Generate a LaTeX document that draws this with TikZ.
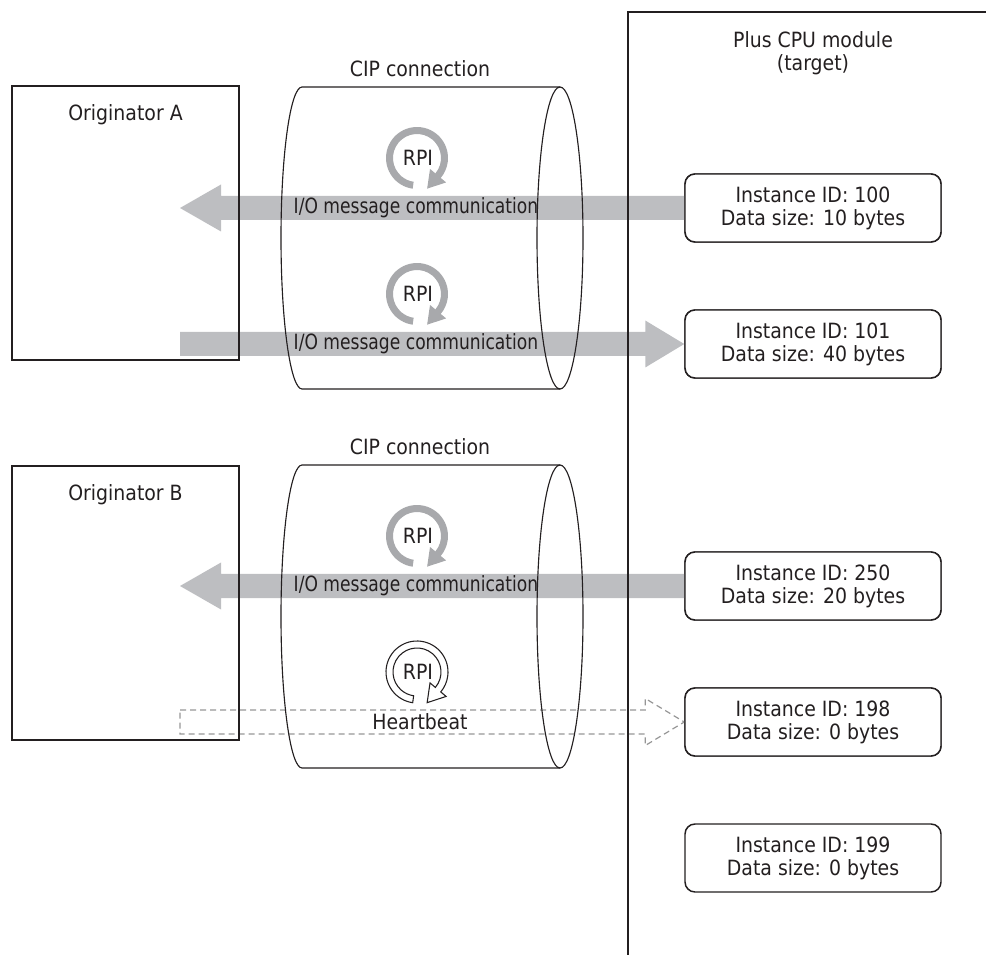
\documentclass[tikz,border=0pt]{standalone}
\usepackage{fontspec}
\usepackage{graphicx}
\setmainfont{DejaVu Sans}[FakeStretch=0.9]
\usetikzlibrary{calc}
\definecolor{band}{RGB}{189,190,193}
\definecolor{ringg}{RGB}{168,169,172}
\definecolor{dashg}{RGB}{150,150,150}
\definecolor{ink}{RGB}{35,31,32}
\newcommand\rpiring[2]{%
  \begin{scope}[shift={#1}, yscale=-1]
    \path[#2] (262:31) arc[start angle=262, end angle=-40, radius=31]
      -- (-40:38) -- (-71.7:32.3) -- (-40:17) -- (-40:24)
      arc[start angle=-40, end angle=262, radius=24] -- cycle;
  \end{scope}}
\newcommand\leftband[3]{% #1 = from node, #2 = tip coordinate, #3 = style
  \path[#3] ($(#1.west)+(0,-12)$) -- ($(#2)+(41,-12)$) -- ($(#2)+(41,-23.5)$) -- (#2)
    -- ($(#2)+(41,23.5)$) -- ($(#2)+(41,12)$) -- ($(#1.west)+(0,12)$) -- cycle;}
\newcommand\rightband[3]{% #1 = tail coordinate, #2 = to node, #3 = style
  \path[#3] ($(#1)+(0,-12)$) -- ($(#2.west)+(-39,-12)$) -- ($(#2.west)+(-39,-23.5)$) -- (#2.west)
    -- ($(#2.west)+(-39,23.5)$) -- ($(#2.west)+(-39,12)$) -- ($(#1)+(0,12)$) -- cycle;}
\newcommand\iomsg{\scalebox{0.906}[1]{I/O message communication}}
\begin{document}
\begin{tikzpicture}[x=0.75pt,y=-0.75pt,
  txt/.style={font=\fontsize{15.75pt}{17.25pt}\selectfont, text=ink, inner sep=0pt, align=center},
  inst/.style={txt, draw=ink, line width=1.1pt, rounded corners=7.5pt, fill=white,
    minimum width=192pt, minimum height=51pt},
  origbox/.style={draw=ink, line width=1.5pt, minimum width=170.25pt, minimum height=205.5pt, inner sep=0pt},
  cylline/.style={draw=ink, line width=0.85pt},
  ringfill/.style={fill=ringg},
  ringhb/.style={fill=white, draw=ink, line width=0.8pt},
  bandfill/.style={fill=band},
  banddash/.style={draw=dashg, line width=0.9pt, dash pattern=on 4.5pt off 3pt},
]
\useasboundingbox (0,0) rectangle (986,955);

% instance boxes (placed first so arrows can reference them)
\path (813,208) node[inst] (i100) {\phantom{I}};
\path (813,344) node[inst] (i101) {\phantom{I}};
\path (813,586) node[inst] (i250) {\phantom{I}};
\path (813,722) node[inst] (i198) {\phantom{I}};

% arrow end coordinates
\coordinate (la1) at (180,208);
\coordinate (ra2) at (180,344);
\coordinate (la3) at (180,586);
\coordinate (hb)  at (180,722);

% bands
\leftband{i100}{la1}{bandfill}
\rightband{ra2}{i101}{bandfill}
\leftband{i250}{la3}{bandfill}
\rightband{hb}{i198}{banddash}

% cylinders
\draw[cylline] (560,87) -- (302,87) arc[start angle=270, end angle=90, x radius=21, y radius=151] -- (560,389);
\draw[cylline] (560,238) ellipse[x radius=23, y radius=151];
\draw[cylline] (560,465) -- (302,465) arc[start angle=270, end angle=90, x radius=21, y radius=151.5] -- (560,768);
\draw[cylline] (560,616.5) ellipse[x radius=23, y radius=151.5];

% originators
\node[origbox] (oa) at (125.5,223) {};
\node[origbox] (ob) at (125.5,603) {};
\node[txt] (oal) at (125.5,115) {Originator A};
\node[txt] (obl) at (125.5,495) {Originator B};

% target
\draw[draw=ink, line width=1.7pt] (986,12) -- (628,12) -- (628,955);
\node[txt] (tgt) at (813,53.5) {Plus CPU module\\(target)};

% instance boxes with text
\node[inst] (j100) at (813,208) {Instance ID: 100\\Data size: 10 bytes};
\node[inst] (j101) at (813,344) {Instance ID: 101\\Data size: 40 bytes};
\node[inst] (j250) at (813,586) {Instance ID: 250\\Data size: 20 bytes};
\node[inst] (j198) at (813,722) {Instance ID: 198\\Data size: 0 bytes};
\node[inst] (j199) at (813,858) {Instance ID: 199\\Data size: 0 bytes};

% CIP labels
\node[txt] (cip1) at (420,69) {CIP connection};
\node[txt] (cip2) at (420,447) {CIP connection};

% RPI rings
\rpiring{(417,158)}{ringfill}
\rpiring{(417,294)}{ringfill}
\rpiring{(417,536)}{ringfill}
\rpiring{(417,672)}{ringhb}
\node[txt] (r1) at (418,158) {RPI};
\node[txt] (r2) at (418,294) {RPI};
\node[txt] (r3) at (418,536) {RPI};
\node[txt] (r4) at (418,672) {RPI};

% arrow labels
\node[txt] (m1) at (416,208) {\iomsg};
\node[txt] (m2) at (416,344) {\iomsg};
\node[txt] (m3) at (416,586) {\iomsg};
\node[txt] (m4) at (420,722) {Heartbeat};
\end{tikzpicture}
\end{document}
